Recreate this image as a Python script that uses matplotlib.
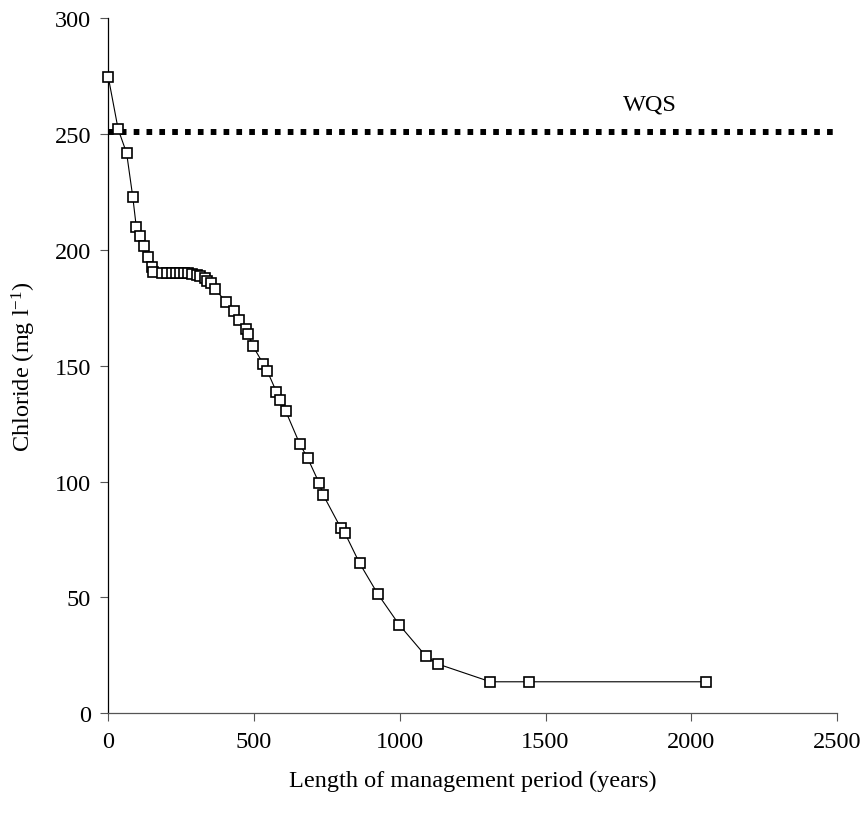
import matplotlib
matplotlib.use("Agg")
import matplotlib.pyplot as plt

plt.rcParams['font.family'] = ['Liberation Serif', 'DejaVu Serif']
plt.rcParams['mathtext.fontset'] = 'custom'
plt.rcParams['mathtext.rm'] = 'Liberation Serif'
plt.rcParams['mathtext.it'] = 'Liberation Serif:italic'

# years of management vs chloride concentration
years = [0, 34, 63, 84, 96, 110, 122, 136, 151, 154, 183, 200, 217, 231, 246,
         260, 274, 288, 303, 315, 332, 340, 351, 366, 404, 432, 449, 472, 480,
         497, 532, 545, 577, 589, 609, 657, 684, 724, 737, 798, 812, 862, 924,
         998, 1090, 1130, 1311, 1445, 2052]
chloride = [274.6, 252.0, 241.7, 222.9, 210.0, 205.8, 201.5, 196.7, 192.4, 190.5,
            190.0, 190.0, 190.0, 190.0, 190.0, 190.0, 189.8, 189.5, 189.2, 188.9,
            188.0, 186.6, 185.5, 183.0, 177.6, 173.6, 169.8, 165.8, 163.6, 158.3,
            150.7, 147.8, 138.7, 135.3, 130.3, 116.2, 110.1, 99.2, 94.3, 79.9,
            77.7, 64.8, 51.6, 38.2, 24.6, 21.3, 13.6, 13.6, 13.6]
wqs = 251
xticks = [0, 500, 1000, 1500, 2000, 2500]
yticks = [0, 50, 100, 150, 200, 250, 300]

fontsize = 17.5

f = plt.figure(figsize=(8.64, 8.2), dpi=100)
ax = f.add_axes([0.1253, 0.1289, 0.8435, 0.8479])

ax.plot([xticks[0], xticks[-1]], [wqs, wqs], color="black", linewidth=4.3,
        linestyle=(0, (0.95, 1.2)), dash_capstyle="butt", clip_on=False)
ax.plot(years, chloride, color="black", linewidth=0.8, marker="s",
        markersize=7, markerfacecolor="white", markeredgecolor="black",
        markeredgewidth=1.2, clip_on=False, zorder=3)
ax.text(1858, 263, "WQS", fontsize=fontsize, ha="center", va="center")

ax.set_xlim(xticks[0], xticks[-1])
ax.set_ylim(yticks[0], yticks[-1])
ax.set_xticks(xticks)
ax.set_yticks(yticks)
ax.spines["top"].set_visible(False)
ax.spines["right"].set_visible(False)
ax.spines["left"].set_linewidth(0.9)
ax.spines["bottom"].set_linewidth(0.9)
ax.spines["bottom"].set_color("#555555")
ax.tick_params(direction="out", length=5.5, width=0.8, labelsize=fontsize,
               pad=7, color="#555555", labelcolor="black")
ax.set_xlabel("Length of management period (years)", fontsize=fontsize, labelpad=13)
ax.set_ylabel("Chloride (mg l$^{-1}$)", fontsize=fontsize, labelpad=12)

f.savefig("out.png", dpi=100)
